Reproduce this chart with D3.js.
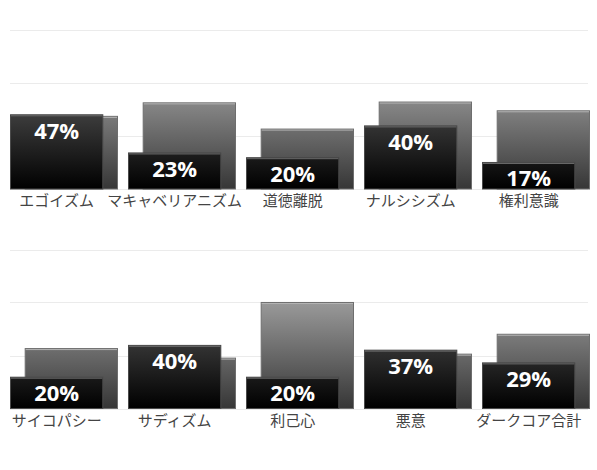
<!DOCTYPE html>
<html><head><meta charset="utf-8">
<script src="https://cdn.jsdelivr.net/npm/d3@7"></script>
<style>
html,body{margin:0;padding:0;background:#fff;}
</style></head>
<body>
<script>
// ---- data ----
const topCategories = ["エゴイズム","マキャベリアニズム","道徳離脱","ナルシシズム","権利意識"];
const topValues = [47,23,20,40,17];
const topCompare = [46,54.5,38,55,49.5];
const bottomCategories = ["サイコパシー","サディズム","利己心","悪意","ダークコア合計"];
const bottomValues = [20,40,20,37,29];
const bottomCompare = [38,32,67,34.5,47];
const gridTicks = [0,33.33,66.67,100];
const yDomain = [0,100];

const W = 597, H = 470;
const svg = d3.select("body").append("svg").attr("width",W).attr("height",H);
const defs = svg.append("defs");

const panels = [
  {cats: topCategories, vals: topValues, cmp: topCompare, base: 189, top: 30, id: "p0"},
  {cats: bottomCategories, vals: bottomValues, cmp: bottomCompare, base: 408.5, top: 249.5, id: "p1"}
];

panels.forEach(p => {
  const x = d3.scaleBand().domain(p.cats).range([10,590]).paddingInner(10/118).paddingOuter(0);
  const bw = x.bandwidth();
  const sub = d3.scaleBand().domain(["main","cmp"]).range([0,bw]);
  const barW = bw*0.864;
  const off = bw - barW;
  const y = d3.scaleLinear().domain(yDomain).range([p.base,p.top]);

  // gradients in user space
  const gd = defs.append("linearGradient").attr("id",p.id+"dark").attr("gradientUnits","userSpaceOnUse")
    .attr("x1",0).attr("x2",0).attr("y1",y(0)).attr("y2",y(100));
  gd.append("stop").attr("offset","0%").attr("stop-color","#000");
  gd.append("stop").attr("offset","100%").attr("stop-color","#828282");
  const gg = defs.append("linearGradient").attr("id",p.id+"gray").attr("gradientUnits","userSpaceOnUse")
    .attr("x1",0).attr("x2",0).attr("y1",y(0)).attr("y2",y(100));
  gg.append("stop").attr("offset","0%").attr("stop-color","#363636");
  gg.append("stop").attr("offset","100%").attr("stop-color","#cbcbcb");

  const g = svg.append("g");
  // gridlines
  g.selectAll("line.grid").data(gridTicks).join("line")
    .attr("x1",10).attr("x2",588)
    .attr("y1",d=>Math.round(y(d))+0.5).attr("y2",d=>Math.round(y(d))+0.5)
    .attr("stroke","#ebebeb").attr("stroke-width",1.2);

  const data = p.cats.map((c,i)=>({c, v:p.vals[i], cmp:p.cmp[i]}));

  // comparison (gray) bars
  g.selectAll("rect.cmp").data(data).join("rect")
    .attr("x",d=>x(d.c)+off+0.5).attr("y",d=>y(d.cmp)+0.5)
    .attr("width",barW-1).attr("height",d=>y(0)-y(d.cmp)-0.5)
    .attr("fill",`url(#${p.id}gray)`).attr("stroke","#6e6e6e").attr("stroke-width",1);
  g.selectAll("line.cmpTop").data(data).join("line")
    .attr("x1",d=>x(d.c)+off+1).attr("x2",d=>x(d.c)+off+barW-1)
    .attr("y1",d=>y(d.cmp)+1.5).attr("y2",d=>y(d.cmp)+1.5)
    .attr("stroke","#b4b4b4").attr("stroke-width",1);

  // main (dark) bars
  g.selectAll("rect.main").data(data).join("rect")
    .attr("x",d=>x(d.c)+0.5).attr("y",d=>y(d.v)+0.5)
    .attr("width",barW-1).attr("height",d=>y(0)-y(d.v)-0.5)
    .attr("fill",`url(#${p.id}dark)`).attr("stroke","#4a4a4a").attr("stroke-width",1);
  g.selectAll("line.mainTop").data(data).join("line")
    .attr("x1",d=>x(d.c)+1).attr("x2",d=>x(d.c)+barW-1)
    .attr("y1",d=>y(d.v)+1.5).attr("y2",d=>y(d.v)+1.5)
    .attr("stroke","#6a6a6a").attr("stroke-width",1);

  // value labels
  g.selectAll("text.val").data(data).join("text")
    .attr("x",d=>x(d.c)+barW/2).attr("y",d=>y(d.v)+24.5)
    .attr("text-anchor","middle")
    .attr("font-family","'Open Sans', sans-serif").attr("font-weight","bold")
    .attr("font-size",22).attr("fill","#fff")
    .text(d=>d.v+"%");

  // category labels
  g.selectAll("text.cat").data(data).join("text")
    .attr("x",d=>x(d.c)+barW/2).attr("y",p.base+17)
    .attr("text-anchor","middle")
    .attr("font-family","'Noto Sans CJK JP', sans-serif")
    .attr("font-size",15).attr("fill","#444")
    .text(d=>d.c);
});
</script>
</body></html>
